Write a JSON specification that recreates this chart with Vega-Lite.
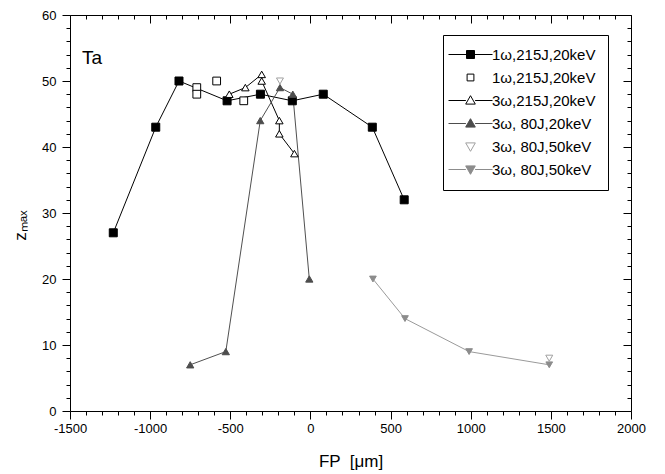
{
  "$schema": "https://vega.github.io/schema/vega-lite/v6.json",
  "width": 561,
  "height": 396,
  "autosize": {"type": "none"},
  "padding": {"left": 70, "top": 15, "right": 34, "bottom": 63},
  "background": "white",
  "config": {
    "font": "Liberation Sans",
    "view": {"stroke": null},
    "axis": {
      "labelFont": "Liberation Sans",
      "titleFont": "Liberation Sans",
      "labelColor": "black",
      "titleColor": "black",
      "tickColor": "black",
      "domainColor": "black",
      "grid": false,
      "titleFontWeight": "normal",
      "labelFontSize": 13,
      "titleFontSize": 17,
      "domainWidth": 1,
      "tickWidth": 1,
      "labelOverlap": false,
      "labelFlush": false
    },
    "legend": {
      "labelFont": "Liberation Sans",
      "labelFontSize": 15,
      "labelColor": "black"
    }
  },
  "data": {
    "values": [
      {"series": "s1", "i": 1, "x": -1230, "y": 27},
      {"series": "s1", "i": 2, "x": -965, "y": 43},
      {"series": "s1", "i": 3, "x": -820, "y": 50},
      {"series": "s1", "i": 4, "x": -520, "y": 47},
      {"series": "s1", "i": 5, "x": -312, "y": 48},
      {"series": "s1", "i": 6, "x": -113, "y": 47},
      {"series": "s1", "i": 7, "x": 80, "y": 48},
      {"series": "s1", "i": 8, "x": 386, "y": 43},
      {"series": "s1", "i": 9, "x": 585, "y": 32},
      {"series": "s2", "i": 1, "x": -709, "y": 49},
      {"series": "s2", "i": 2, "x": -709, "y": 48},
      {"series": "s2", "i": 3, "x": -585, "y": 50},
      {"series": "s2", "i": 4, "x": -416, "y": 47},
      {"series": "s3", "i": 1, "x": -506, "y": 48},
      {"series": "s3", "i": 2, "x": -406, "y": 49},
      {"series": "s3", "i": 3, "x": -304, "y": 51},
      {"series": "s3", "i": 4, "x": -304, "y": 50},
      {"series": "s3", "i": 5, "x": -194, "y": 44},
      {"series": "s3", "i": 6, "x": -194, "y": 42},
      {"series": "s3", "i": 7, "x": -100, "y": 39},
      {"series": "s4", "i": 1, "x": -750, "y": 7},
      {"series": "s4", "i": 2, "x": -528, "y": 9},
      {"series": "s4", "i": 3, "x": -313, "y": 44},
      {"series": "s4", "i": 4, "x": -190, "y": 49},
      {"series": "s4", "i": 5, "x": -110, "y": 48},
      {"series": "s4", "i": 6, "x": -7, "y": 20},
      {"series": "s5", "i": 1, "x": -190, "y": 50},
      {"series": "s5", "i": 2, "x": 1490, "y": 8},
      {"series": "s6", "i": 1, "x": 390, "y": 20},
      {"series": "s6", "i": 2, "x": 590, "y": 14},
      {"series": "s6", "i": 3, "x": 990, "y": 9},
      {"series": "s6", "i": 4, "x": 1490, "y": 7}
    ]
  },
  "resolve": {
    "scale": {"shape": "independent", "fill": "independent", "stroke": "independent", "size": "independent"},
    "axis": {"x": "independent", "y": "independent"}
  },
  "layer": [
    {
      "transform": [{"filter": "datum.series === 's1' || datum.series === 's3' || datum.series === 's4' || datum.series === 's6'"}],
      "mark": {"type": "line", "strokeWidth": 1},
      "encoding": {
        "x": {
          "field": "x", "type": "quantitative",
          "scale": {"domain": [-1500, 2000], "nice": false, "zero": false},
          "axis": {
            "orient": "bottom",
            "values": [-1500,-1400,-1300,-1200,-1100,-1000,-900,-800,-700,-600,-500,-400,-300,-200,-100,0,100,200,300,400,500,600,700,800,900,1000,1100,1200,1300,1400,1500,1600,1700,1800,1900,2000],
            "labelExpr": "datum.value % 500 === 0 ? '' + datum.value : ''",
            "tickSize": {"condition": {"test": "datum.value % 500 === 0", "value": 8}, "value": 4},
            "labelPadding": 3,
            "title": "FP \u00a0[μm]",
            "titlePadding": 18
          }
        },
        "y": {
          "field": "y", "type": "quantitative",
          "scale": {"domain": [0, 60], "nice": false, "zero": false},
          "axis": {
            "orient": "left",
            "values": [0,2,4,6,8,10,12,14,16,18,20,22,24,26,28,30,32,34,36,38,40,42,44,46,48,50,52,54,56,58,60],
            "labelExpr": "datum.value % 10 === 0 ? '' + datum.value : ''",
            "tickSize": {"condition": {"test": "datum.value % 10 === 0", "value": 8}, "value": 4},
            "labelPadding": 6,
            "title": "zₘₐₓ",
            "titlePadding": 12,
            "titleY": 210
          }
        },
        "stroke": {
          "field": "series", "type": "nominal",
          "scale": {"domain": ["s1", "s3", "s4", "s6"], "range": ["#000000", "#000000", "#505050", "#9a9a9a"]},
          "legend": null
        },
        "order": {"field": "i", "type": "quantitative"}
      }
    },
    {
      "mark": {"type": "point", "filled": true, "strokeWidth": 1, "opacity": 1},
      "encoding": {
        "x": {
          "field": "x", "type": "quantitative",
          "axis": {
            "orient": "top",
            "values": [-1500,-1400,-1300,-1200,-1100,-1000,-900,-800,-700,-600,-500,-400,-300,-200,-100,0,100,200,300,400,500,600,700,800,900,1000,1100,1200,1300,1400,1500,1600,1700,1800,1900,2000],
            "labels": false,
            "tickSize": {"condition": {"test": "datum.value % 500 === 0", "value": -8}, "value": -4},
            "title": null
          }
        },
        "y": {
          "field": "y", "type": "quantitative",
          "axis": {
            "orient": "right",
            "values": [0,2,4,6,8,10,12,14,16,18,20,22,24,26,28,30,32,34,36,38,40,42,44,46,48,50,52,54,56,58,60],
            "labels": false,
            "tickSize": {"condition": {"test": "datum.value % 10 === 0", "value": -8}, "value": -4},
            "title": null
          }
        },
        "shape": {
          "field": "series", "type": "nominal",
          "scale": {"domain": ["s1", "s2", "s3", "s4", "s5", "s6"], "range": ["square", "square", "triangle-up", "triangle-up", "triangle-down", "triangle-down"]},
          "legend": null
        },
        "fill": {
          "field": "series", "type": "nominal",
          "scale": {"domain": ["s1", "s2", "s3", "s4", "s5", "s6"], "range": ["#000000", "#ffffff", "#ffffff", "#4d4d4d", "#ffffff", "#8c8c8c"]},
          "legend": null
        },
        "stroke": {
          "field": "series", "type": "nominal",
          "scale": {"domain": ["s1", "s2", "s3", "s4", "s5", "s6"], "range": ["#000000", "#000000", "#000000", "#4d4d4d", "#a0a0a0", "#8c8c8c"]},
          "legend": null
        },
        "size": {
          "field": "series", "type": "ordinal",
          "scale": {"domain": ["s1", "s2", "s3", "s4", "s5", "s6"], "range": [64, 45, 85, 90, 85, 90]},
          "legend": null
        }
      }
    },
    {
      "mark": {"type": "point", "filled": true, "strokeWidth": 1, "opacity": 0, "size": 64},
      "encoding": {
        "x": {"field": "x", "type": "quantitative", "axis": null},
        "y": {"field": "y", "type": "quantitative", "axis": null},
        "shape": {
          "field": "series", "type": "nominal",
          "scale": {"domain": ["s1", "s2", "s3", "s4", "s5", "s6"], "range": [
            "M-5.5,0H-1M1,0H5.5M-1,-1H1V1H-1Z",
            "M-0.85,-0.85H0.85V0.85H-0.85Z",
            "M-5.5,0H-1.15M1.15,0H5.5M0,-1.2L1.2,0.9L-1.2,0.9Z",
            "M-5.5,0H-1.15M1.15,0H5.5M0,-1.2L1.2,0.9L-1.2,0.9Z",
            "M0,1.2L1.2,-0.9L-1.2,-0.9Z",
            "M-5.5,0H-1.15M1.15,0H5.5M0,1.2L1.2,-0.9L-1.2,-0.9Z"
          ]},
          "legend": {
            "orient": "none",
            "legendX": 373,
            "legendY": 20,
            "title": null,
            "labelExpr": "(datum.value === 's1' || datum.value === 's2') ? '1ω,215J,20keV' : datum.value === 's3' ? '3ω,215J,20keV' : datum.value === 's4' ? '3ω, 80J,20keV' : '3ω, 80J,50keV'",
            "strokeColor": "#000000",
            "fillColor": "#ffffff",
            "padding": 12,
            "symbolOffset": 8,
            "labelOffset": 14,
            "rowPadding": 7,
            "symbolOpacity": 1,
            "symbolStrokeWidth": 1,
            "symbolSize": 64
          }
        },
        "fill": {
          "field": "series", "type": "nominal",
          "scale": {"domain": ["s1", "s2", "s3", "s4", "s5", "s6"], "range": ["#000000", "#ffffff", "#ffffff", "#4d4d4d", "#ffffff", "#8c8c8c"]}
        },
        "stroke": {
          "field": "series", "type": "nominal",
          "scale": {"domain": ["s1", "s2", "s3", "s4", "s5", "s6"], "range": ["#000000", "#000000", "#000000", "#4d4d4d", "#a0a0a0", "#8c8c8c"]}
        }
      }
    },
    {
      "data": {"values": [{"t": "Ta", "x": -1425, "y": 53.5}]},
      "mark": {"type": "text", "align": "left", "baseline": "middle", "fontSize": 19, "font": "Liberation Sans", "color": "#000000"},
      "encoding": {
        "x": {"field": "x", "type": "quantitative", "axis": null},
        "y": {"field": "y", "type": "quantitative", "axis": null},
        "text": {"field": "t"}
      }
    }
  ]
}
